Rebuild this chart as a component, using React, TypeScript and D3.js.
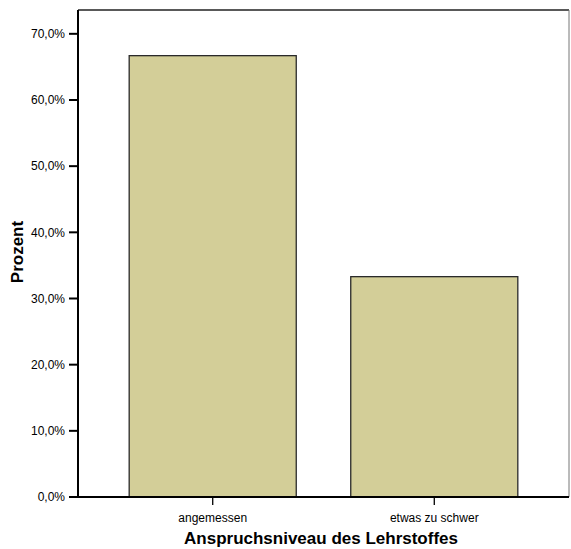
import React from "react";
import * as d3 from "d3";

const categories = ["angemessen", "etwas zu schwer"];
const values = [66.7, 33.3];
const yTicks = [0, 10, 20, 30, 40, 50, 60, 70];
const yMax = 73.6;

export default function App() {
  const W = 571, H = 549;
  const left = 78, right = 569, top = 10, bottom = 497;
  const x = d3.scaleBand<string>().domain(categories).range([left, right]).paddingInner(0.246).paddingOuter(0.231);
  const y = d3.scaleLinear().domain([0, yMax]).range([bottom, top]);
  const fmt = (v: number) => v.toFixed(1).replace(".", ",") + "%";
  const font = "Liberation Sans, Arial, sans-serif";
  return (
    <svg width={W} height={H} style={{ position: "absolute", left: 0, top: 0, background: "#fff" }} fontFamily={font}>
      <line x1={left} x2={right} y1={top} y2={top} stroke="#222" strokeWidth={1.5} />
      <line x1={right} x2={right} y1={top} y2={bottom} stroke="#777" strokeWidth={1} />
      {categories.map((c, i) => (
        <rect key={c} x={x(c)} y={y(values[i])} width={x.bandwidth()} height={bottom - y(values[i])}
          fill="#d3ce98" stroke="#2a2a2a" strokeWidth={1.3} />
      ))}
      <line x1={left} x2={left} y1={top} y2={bottom} stroke="#000" strokeWidth={2} />
      <line x1={left} x2={right} y1={bottom} y2={bottom} stroke="#000" strokeWidth={2} />
      {yTicks.map(t => (
        <g key={t}>
          <line x1={left - 9} x2={left} y1={y(t)} y2={y(t)} stroke="#000" strokeWidth={2} />
          <text x={left - 13} y={y(t)} dy="0.35em" textAnchor="end" fontSize={12} fill="#000">{fmt(t)}</text>
        </g>
      ))}
      {categories.map(c => {
        const cx = (x(c) as number) + x.bandwidth() / 2;
        return (
          <g key={c}>
            <line x1={cx} x2={cx} y1={bottom} y2={bottom + 8} stroke="#000" strokeWidth={1.3} />
            <text x={cx} y={522} textAnchor="middle" fontSize={12} fill="#000">{c}</text>
          </g>
        );
      })}
      <text x={321} y={544} textAnchor="middle" fontSize={17} fontWeight="bold" fill="#000">Anspruchsniveau des Lehrstoffes</text>
      <text transform={`translate(23, 252) rotate(-90)`} textAnchor="middle" fontSize={17} fontWeight="bold" fill="#000">Prozent</text>
    </svg>
  );
}
